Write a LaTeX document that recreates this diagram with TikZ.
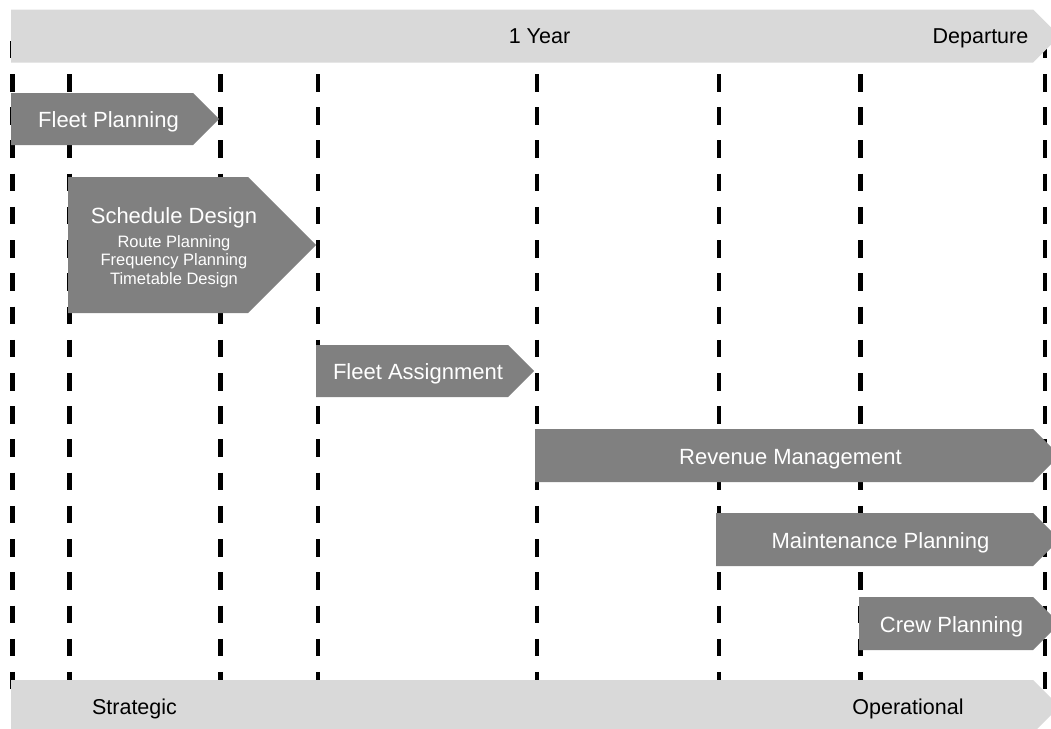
\documentclass[tikz,border=0pt]{standalone}
\usepackage{fontspec}
\setmainfont{Liberation Sans}
\begin{document}
\begin{tikzpicture}[x=1pt,y=-1pt,
  barfill/.style={fill=barGray},
  boxfill/.style={fill=boxGray},
  barlabel/.style={anchor=base,inner sep=0pt,text=black,font=\fontsize{21.5}{24}\selectfont},
  boxlabel/.style={anchor=base,inner sep=0pt,text=white,font=\fontsize{22}{24}\selectfont},
  timeline/.style={line width=4.5pt,black,dash pattern=on 17.5pt off 15.72pt}]
\definecolor{barGray}{HTML}{D9D9D9}
\definecolor{boxGray}{HTML}{808080}
\useasboundingbox (0,0) rectangle (1051,728);
\clip (0,0) rectangle (1051,728);

% vertical time markers
\foreach \x in {12.5,69.5,220.5,318,537,719,860.5,1045}
  \draw[timeline] (\x,40.8) -- (\x,690);

% horizon bars
\fill[barfill] (11,9.5) -- (1033,9.5) -- (1059.5,36) -- (1033,62.5) -- (11,62.5) -- cycle;
\fill[barfill] (11,680) -- (1033,680) -- (1059.5,706.5) -- (1033,733) -- (11,733) -- cycle;
\node[barlabel] (year) at (539.5,43.8) {1 Year};
\node[barlabel] (dep) at (980.5,43.8) {Departure};
\node[barlabel] (strat) at (134.5,714.3) {Strategic};
\node[barlabel] (oper) at (908,714.3) {Operational};

% planning stages
\fill[boxfill] (11,93) -- (193,93) -- (219,119) -- (193,145) -- (11,145) -- cycle;
\node[boxlabel] (fleet) at (108.5,127.5) {Fleet Planning};

\fill[boxfill] (68,177) -- (248,177) -- (316,245) -- (248,313) -- (68,313) -- cycle;
\node[boxlabel] (sched) at (174,223.3) {Schedule Design};
\node[boxlabel,font=\fontsize{16.5}{18.5}\selectfont,align=center,anchor=north] (schedsub) at (174,235)
  {Route Planning\\Frequency Planning\\Timetable Design};

\fill[boxfill] (316,345) -- (508,345) -- (534,371) -- (508,397) -- (316,397) -- cycle;
\node[boxlabel] (assign) at (418,379.5) {Fleet Assignment};

\fill[boxfill] (535,429) -- (1033,429) -- (1059.5,455.5) -- (1033,482) -- (535,482) -- cycle;
\node[boxlabel] (rev) at (790.5,464) {Revenue Management};

\fill[boxfill] (716,513) -- (1033,513) -- (1059.5,539.5) -- (1033,566) -- (716,566) -- cycle;
\node[boxlabel] (maint) at (880.5,548.2) {Maintenance Planning};

\fill[boxfill] (859,597) -- (1033,597) -- (1059.5,623.5) -- (1033,650) -- (859,650) -- cycle;
\node[boxlabel] (crew) at (951.5,632.2) {Crew Planning};
\end{tikzpicture}
\end{document}
